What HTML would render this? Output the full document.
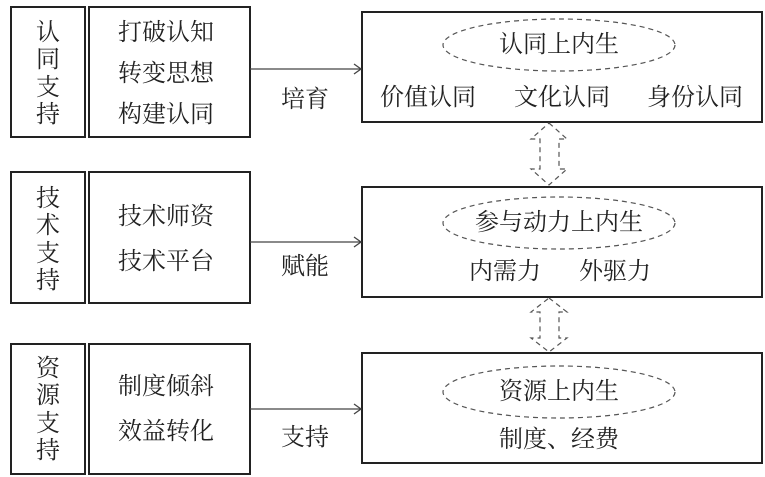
<!DOCTYPE html>
<html><head><meta charset="utf-8"><style>
html,body{margin:0;padding:0;background:#fff;}
</style></head><body>
<svg width="765" height="477" viewBox="0 0 765 477" xmlns="http://www.w3.org/2000/svg" style="display:block">
<g font-family="Liberation Serif, Noto Serif CJK SC, serif" font-size="24" fill="#222" text-anchor="middle" dominant-baseline="central">
<g fill="none" stroke="#222" stroke-width="2">
<rect x="11" y="7" width="74" height="130"/>
<rect x="89" y="7" width="161" height="130"/>
<rect x="11" y="172" width="74" height="131"/>
<rect x="89" y="172" width="161" height="131"/>
<rect x="11" y="344" width="74" height="130"/>
<rect x="89" y="344" width="161" height="130"/>
<rect x="362" y="12" width="400" height="110"/>
<rect x="362" y="187" width="400" height="110"/>
<rect x="362" y="353" width="400" height="110"/>
</g>
<g fill="none" stroke="#444" stroke-width="1.3">
<line x1="250" y1="69" x2="361" y2="69"/><polyline points="354,64 361,69 354,74"/>
<line x1="250" y1="242" x2="361" y2="242"/><polyline points="354,237 361,242 354,247"/>
<line x1="250" y1="409" x2="361" y2="409"/><polyline points="354,404 361,409 354,414"/>
</g>
<g fill="none" stroke="#555" stroke-width="1.2" stroke-dasharray="5,4">
<ellipse cx="559" cy="45" rx="116" ry="26"/>
<ellipse cx="559" cy="223" rx="116" ry="26"/>
<ellipse cx="559" cy="392" rx="116" ry="26"/>
<polygon points="549,123 567,139 559,139 559,169 567,169 549,185 531,169 540,169 540,139 531,139"/>
<polygon points="549,298 567,312 559,312 559,338 567,338 549,352 531,338 540,338 540,312 531,312"/>
</g>
<text x="48" y="33">认</text><text x="48" y="60">同</text><text x="48" y="88">支</text><text x="48" y="115">持</text>
<text x="48" y="199">技</text><text x="48" y="226">术</text><text x="48" y="254">支</text><text x="48" y="281">持</text>
<text x="48" y="369">资</text><text x="48" y="396">源</text><text x="48" y="424">支</text><text x="48" y="451">持</text>
<text x="166" y="33">打破认知</text><text x="166" y="74">转变思想</text><text x="166" y="115">构建认同</text>
<text x="166" y="217">技术师资</text><text x="166" y="262">技术平台</text>
<text x="166" y="387">制度倾斜</text><text x="166" y="432">效益转化</text>
<text x="305" y="100">培育</text>
<text x="305" y="267">赋能</text>
<text x="305" y="438">支持</text>
<text x="559" y="45">认同上内生</text>
<text x="428" y="98">价值认同</text><text x="562" y="98">文化认同</text><text x="695" y="98">身份认同</text>
<text x="559" y="223">参与动力上内生</text>
<text x="505" y="272">内需力</text><text x="615" y="272">外驱力</text>
<text x="559" y="392">资源上内生</text>
<text x="559" y="440">制度、经费</text>
</g>
</svg>
</body></html>
